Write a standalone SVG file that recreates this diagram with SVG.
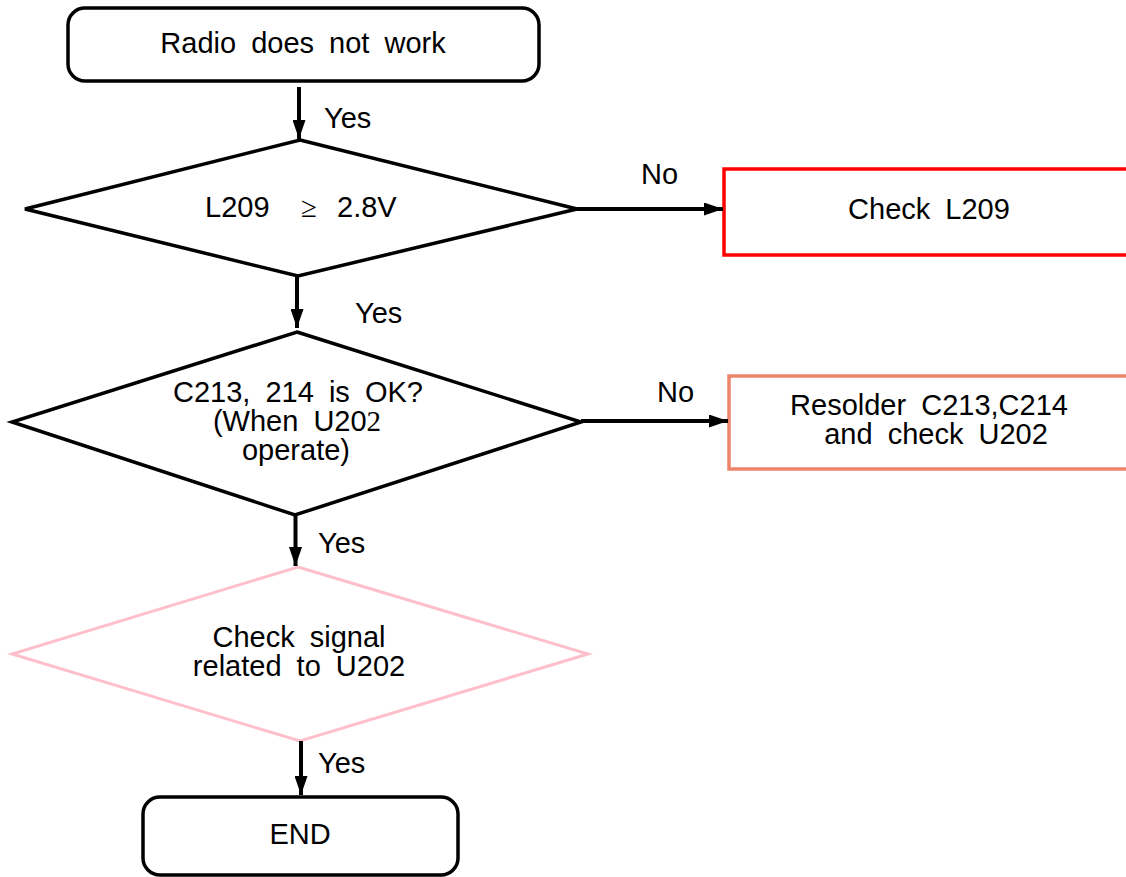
<svg xmlns="http://www.w3.org/2000/svg" width="1126" height="877" viewBox="0 0 1126 877">
<style>
.t{font-family:"Liberation Sans",Arial,sans-serif;font-size:29px;fill:#000;word-spacing:7px}
.c{text-anchor:middle}
.blk{fill:#fff;stroke:#000;stroke-width:3.5}
.dia{fill:#fff;stroke:#000;stroke-width:3.5;stroke-linejoin:miter}
.conn{stroke:#000;stroke-width:4;fill:none}
</style>
<defs>
<marker id="ah" markerUnits="userSpaceOnUse" markerWidth="20" markerHeight="13" refX="19" refY="6.5" orient="auto">
<path d="M0,0 L19,6.5 L0,13 z" fill="#000"/>
</marker>
</defs>
<rect width="1126" height="877" fill="#fff"/>
<g id="start">
<rect class="blk" x="68" y="8" width="471" height="73" rx="17"/>
<text class="t c" x="303" y="53">Radio does not work</text>
</g>
<g id="d1">
<polygon class="dia" points="300,140 577,209 298,276 25,209"/>
<text class="t" y="217"><tspan x="205">L209</tspan><tspan x="301" style="font-family:'Liberation Serif',serif">≥</tspan><tspan x="337">2.8V</tspan></text>
</g>
<g id="checkL209">
<rect x="724" y="169" width="420" height="86" fill="#fff" stroke="#FF0000" stroke-width="3.5"/>
<text class="t c" x="929" y="219">Check L209</text>
</g>
<g id="d2">
<polygon class="dia" points="297,332 581,422 295,515 12,422"/>
<text class="t c" x="298" y="402">C213, 214 is OK?</text>
<text class="t c" x="297" y="431">(When U20<tspan style="font-family:'Liberation Serif',serif">2</tspan></text>
<text class="t c" x="296" y="460">operate)</text>
</g>
<g id="resolder">
<rect x="729" y="376" width="420" height="93" fill="#fff" stroke="#EE846C" stroke-width="3.5"/>
<text class="t c" x="929" y="415">Resolder C213,C214</text>
<text class="t c" x="936" y="444">and check U202</text>
</g>
<g id="d3">
<polygon points="298,567 588,654 300,741 12,654" fill="#fff" stroke="#FFC0CB" stroke-width="3"/>
<text class="t c" x="299" y="647">Check signal</text>
<text class="t c" x="299" y="676">related to U202</text>
</g>
<g id="end">
<rect class="blk" x="143" y="797" width="315" height="78" rx="17"/>
<text class="t c" x="300" y="844">END</text>
</g>
<g id="connectors">
<line class="conn" x1="299" y1="87" x2="299" y2="139" marker-end="url(#ah)"/>
<line class="conn" x1="297" y1="276" x2="297" y2="328" marker-end="url(#ah)"/>
<line class="conn" x1="295.5" y1="515" x2="295.5" y2="566" marker-end="url(#ah)"/>
<line class="conn" x1="301" y1="741" x2="301" y2="795" marker-end="url(#ah)"/>
<line class="conn" x1="577" y1="209" x2="723" y2="209" marker-end="url(#ah)"/>
<line class="conn" x1="581" y1="421" x2="728" y2="421" marker-end="url(#ah)"/>
<text class="t" x="324" y="128">Yes</text>
<text class="t" x="355" y="323">Yes</text>
<text class="t" x="318" y="553">Yes</text>
<text class="t" x="318" y="773">Yes</text>
<text class="t" x="641" y="184">No</text>
<text class="t" x="657" y="402">No</text>
</g>
</svg>
